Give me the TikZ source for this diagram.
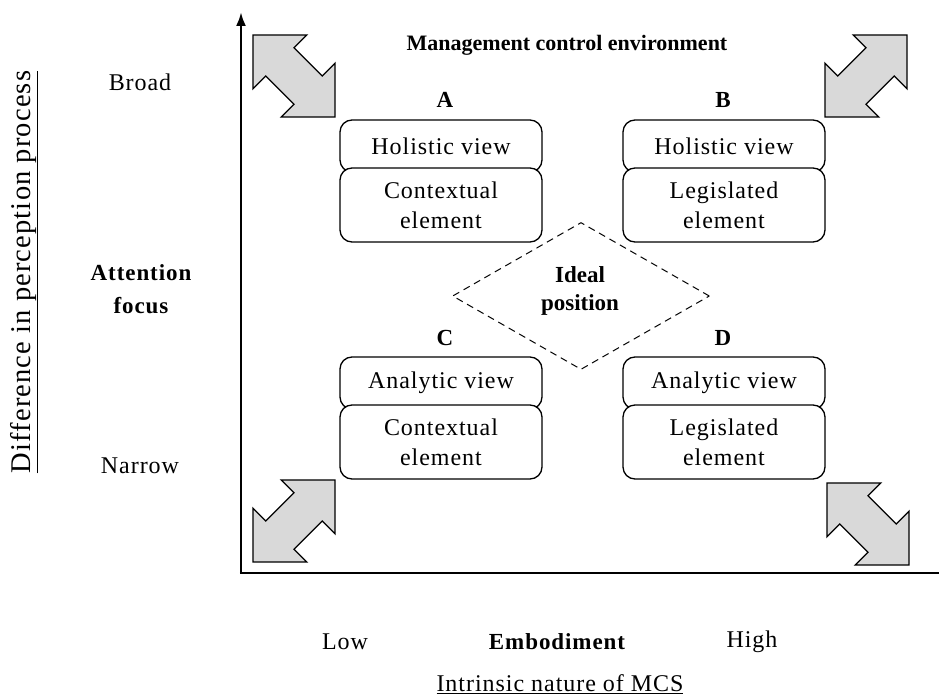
\documentclass[tikz,border=0pt]{standalone}
\usepackage{fontspec}
\setmainfont[LetterSpace=4]{Liberation Serif}
\usetikzlibrary{arrows.meta}
\usetikzlibrary{shapes.geometric}

\begin{document}
\begin{tikzpicture}[x=1pt,y=-1pt,
  every node/.style={font=\fontsize{24}{30}\selectfont},
  lbl/.style={align=center},
  hd/.style={align=center,font=\fontsize{23}{33}\selectfont\bfseries},
  letter/.style={font=\fontsize{23}{24}\selectfont\bfseries},
  title/.style={font=\fontsize{22}{24}\selectfont\bfseries\addfontfeature{LetterSpace=0}},
  view/.style={draw,line width=1.3pt,rounded corners=12pt,fill=white,
    minimum width=202pt,minimum height=52pt,inner sep=0pt},
  elem/.style={view,minimum height=74pt,align=center},
  axis/.style={line width=2.5pt},
  ideal/.style={draw,diamond,dashed,dash pattern=on 7pt off 5pt,line width=1pt,
    minimum width=257pt,minimum height=147pt,inner sep=0pt},
  bigarrow/.pic={\draw[line width=1.3pt,fill=black!15,line join=miter]
    (-58,0) -- (-20,38) -- (-20,20) -- (20,20) -- (20,38) -- (58,0)
    -- (20,-38) -- (20,-20) -- (-20,-20) -- (-20,-38) -- cycle;}]
\useasboundingbox (0,0) rectangle (939,695);

% axes
\coordinate (origin) at (241,573);
\coordinate (ytop) at (241,12);
\coordinate (xend) at (939,573);
\draw[axis,-{Latex[length=14pt,width=10pt]}] (origin) -- (ytop);
\draw[axis] ([xshift=-1.2pt]origin) -- (xend);

% corner arrows
\pic[rotate=-45] at (294,76) {bigarrow};
\pic[rotate=45] at (866,76) {bigarrow};
\pic[rotate=45] at (294,521) {bigarrow};
\pic[rotate=-45] at (868,524) {bigarrow};

\node[title] (mce) at (567,45) {Management control environment};

% ideal position
\node[ideal] (ideal) at (581,296) {};
\node[hd,font=\fontsize{23}{28}\selectfont\bfseries\addfontfeature{LetterSpace=0}]
  (idealtxt) at (580,291) {Ideal\\position};

% quadrants
\node[letter] (labA) at (445,100) {A};
\node[view] (holA) at (441,146) {Holistic view};
\node[elem] (ctxA) at (441,205) {Contextual\\element};
\node[letter] (labB) at (723,100) {B};
\node[view] (holB) at (724,146) {Holistic view};
\node[elem] (legB) at (724,205) {Legislated\\element};
\node[letter] (labC) at (445,338) {C};
\node[view] (anaC) at (441,383) {Analytic view};
\node[elem] (ctxC) at (441,442) {Contextual\\element};
\node[letter] (labD) at (723,338) {D};
\node[view] (anaD) at (724,383) {Analytic view};
\node[elem] (legD) at (724,442) {Legislated\\element};

% vertical labels
\node[lbl] (broad) at (140,82) {Broad};
\node[hd] (focus) at (141,289) {Attention\\focus};
\node[lbl] (narrow) at (140,466) {Narrow};
\node[lbl,rotate=90,font=\fontsize{28.5}{30}\selectfont] (diff) at (24,272)
  {\underline{Difference in perception process}};

% horizontal labels
\node[lbl] (low) at (345,642) {Low};
\node[hd] (emb) at (557,642) {Embodiment};
\node[lbl] (high) at (752,642) {High};
\node[lbl] (mcs) at (560,684) {\underline{Intrinsic nature of MCS}};
\end{tikzpicture}
\end{document}
